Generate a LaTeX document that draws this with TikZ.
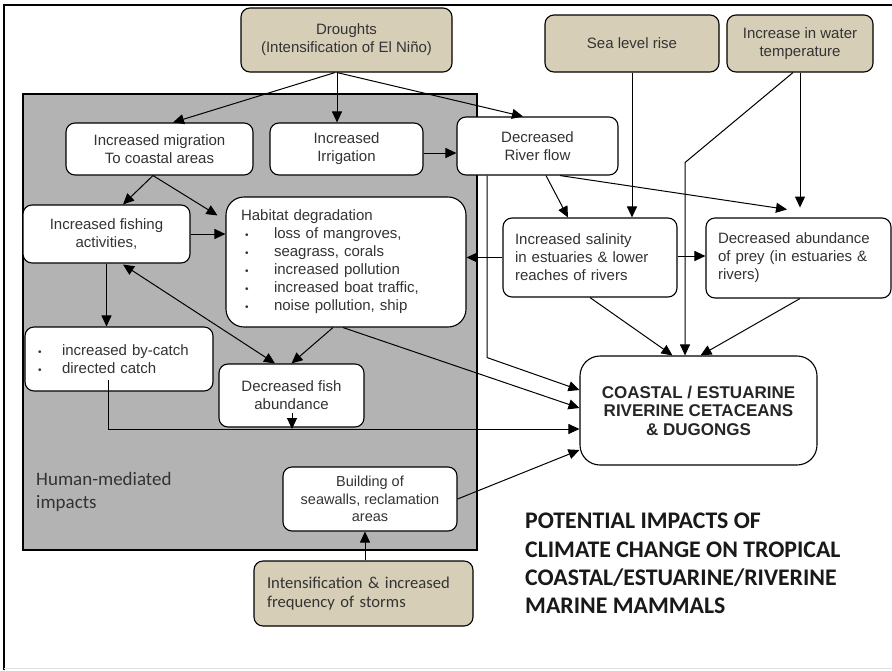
\documentclass[tikz,border=0pt]{standalone}
\usepackage{fontspec}
\setmainfont{Liberation Sans}
\newfontfamily\calfont{Carlito}
\usetikzlibrary{arrows.meta}
\definecolor{grayreg}{HTML}{B3B3B3}
\definecolor{tanfill}{HTML}{D6CEB6}
\definecolor{txt}{HTML}{333333}
\begin{document}
\begin{tikzpicture}[x=1pt,y=-1pt,
  box/.style={draw=black, line width=1.1pt, fill=white, rounded corners=9pt, inner sep=0pt, align=center, text=txt, font=\fontsize{15}{18}\selectfont},
  cause/.style={box, fill=tanfill},
  arr/.style={line width=1pt, -{Triangle[length=11pt,width=10pt]}},
  darr/.style={line width=1pt, {Triangle[length=11pt,width=10pt]}-{Triangle[length=11pt,width=10pt]}}]
\useasboundingbox (0,0) rectangle (892,670);
\fill[white] (0,0) rectangle (892,670);
\draw[line width=1.2pt] (4,670) -- (4,5) -- (892,5);
\draw[black!12] (4,668) -- (892,668);
\draw[line width=1.2pt, fill=grayreg] (23,94) rectangle (477,550);

% cause boxes
\node[cause, minimum width=211, minimum height=64] (drought) at (346.5,40) {Droughts\\(Intensification of El Niño)};
\node[cause, minimum width=174, minimum height=57] (sea) at (632,43.5) {Sea level rise};
\node[cause, minimum width=146, minimum height=57] (temp) at (800,43.5) {Increase in water\\temperature};
\node[cause, minimum width=219, minimum height=65, text width=193, align=left, font=\calfont\fontsize{16.6}{19}\selectfont] (storms) at (363.5,593.5) {Intensification \& increased\\frequency of storms};

% effect boxes
\node[box, minimum width=187, minimum height=52] (migr) at (159.5,149) {Increased migration\\To coastal areas};
\node[box, minimum width=153, minimum height=52] (irrig) at (346.5,149) {Increased\\Irrigation};
\node[box, minimum width=161, minimum height=58] (river) at (537.5,146) {Decreased\\River flow};
\node[box, minimum width=167, minimum height=58] (fishing) at (106.5,234) {Increased fishing\\activities,};
\node[box, rounded corners=18pt, minimum width=240, minimum height=130, text width=210, align=left] (habitat) at (346,262)
  {Habitat degradation\\
   \hspace*{4pt}\makebox[29pt][l]{\fontsize{10}{10}\selectfont\textbullet}loss of mangroves,\\
   \hspace*{4pt}\makebox[29pt][l]{\fontsize{10}{10}\selectfont\textbullet}seagrass, corals\\
   \hspace*{4pt}\makebox[29pt][l]{\fontsize{10}{10}\selectfont\textbullet}increased pollution\\
   \hspace*{4pt}\makebox[29pt][l]{\fontsize{10}{10}\selectfont\textbullet}increased boat traffic,\\
   \hspace*{4pt}\makebox[29pt][l]{\fontsize{10}{10}\selectfont\textbullet}noise pollution, ship};
\node[box, minimum width=174, minimum height=79, text width=150, align=left] (salinity) at (590,257.5) {Increased salinity\\in estuaries \& lower\\reaches of rivers};
\node[box, minimum width=185, minimum height=80, text width=161, align=left] (prey) at (798.5,258) {Decreased abundance\\of prey (in estuaries \&\\rivers)};
\node[box, minimum width=188, minimum height=64, text width=166, align=left] (bycatch) at (119,359)
  {\hspace*{2pt}\makebox[24pt][l]{\fontsize{10}{10}\selectfont\textbullet}increased by-catch\\
   \hspace*{2pt}\makebox[24pt][l]{\fontsize{10}{10}\selectfont\textbullet}directed catch};
\node[box, minimum width=145, minimum height=63] (fish) at (291.5,395.5) {Decreased fish\\abundance};
\node[box, minimum width=174, minimum height=64, font=\fontsize{14.5}{17.5}\selectfont] (seawall) at (370,499) {Building of\\seawalls, reclamation\\areas};
\node[box, rounded corners=20pt, minimum width=237, minimum height=109, font=\bfseries\fontsize{17}{18.5}\selectfont, text=black!85] (coastal) at (698.5,410.5) {COASTAL / ESTUARINE\\RIVERINE CETACEANS\\\& DUGONGS};

% free texts
\node[anchor=west, align=left, inner sep=0pt, text=txt, font=\calfont\fontsize{19}{23}\selectfont] (human) at (36,491.5) {Human-mediated\\impacts};
\node[anchor=north west, align=left, inner sep=0pt, text=black!90, font=\calfont\bfseries\fontsize{23.8}{28.2}\selectfont] (title) at (525,513) {POTENTIAL IMPACTS OF\\CLIMATE CHANGE ON TROPICAL\\COASTAL/ESTUARINE/RIVERINE\\MARINE MAMMALS};

% connectors
\draw[arr] ([xshift=-11.5pt]drought.south) -- ([xshift=13.5pt]migr.north);
\draw[arr] ([xshift=-9.5pt]drought.south) -- ([xshift=-9.5pt]irrig.north);
\draw[arr] ([xshift=-9.5pt]drought.south) -- ([xshift=-14.5pt]river.north);
\draw[arr] ([yshift=-4pt]irrig.east) -- ([yshift=-4pt]irrig.east -| river.west);
\draw[arr] ([xshift=-6.5pt]migr.south) -- ([xshift=16.5pt]fishing.north);
\draw[arr] ([xshift=-6.5pt]migr.south) -- ([xshift=-8pt,yshift=-19pt]habitat.north west);
\draw[arr] (fishing.east) -- (fishing.east -| habitat.west);
\draw[arr] (fishing.south) -- (fishing.south |- bycatch.north);
\draw[darr] ([xshift=16.5pt,yshift=-1pt]fishing.south) -- ([xshift=-16.5pt]fish.north);
\draw[arr] ([xshift=-13pt]habitat.south) -- (fish.north);
\draw[arr] ([xshift=-3pt]habitat.south) -- ([yshift=2.5pt]coastal.west);
\draw[arr] ([xshift=-50.5pt]river.south) -- ++(0,182) -- ([yshift=20.5pt]coastal.west);
\draw[arr] ([xshift=-11pt,yshift=-21pt]bycatch.center) |- ([yshift=-18.5pt]coastal.west);
\draw[arr] ([xshift=0.5pt,yshift=-17pt]fish.center) -- ([xshift=0.5pt,yshift=-33.5pt]fish.center);
\draw[arr] (seawall.east) -- ([yshift=-39.5pt]coastal.west);
\draw[arr] ([xshift=1.5pt]storms.north) -- ([xshift=1.5pt]storms.north |- seawall.south);
\draw[arr] (salinity.west) -- (salinity.west -| habitat.east);
\draw[arr] ([yshift=1.5pt]salinity.east) -- ([yshift=1.5pt]salinity.east -| prey.west);
\draw[arr] ([xshift=8.5pt]river.south) -- ([xshift=-22pt]salinity.north);
\draw[arr] (sea.south) -- (sea.south |- salinity.north);
\draw[arr] ([xshift=22.5pt]river.south) -- ([xshift=-11.5pt,yshift=8pt]prey.north);
\draw[arr] (temp.south) -- ++(0,135);
\draw[arr] ([xshift=-7pt]temp.south) -- ++(-108,90) -- ([xshift=-13.5pt]coastal.north);
\draw[arr] (salinity.south) -- ([xshift=-26pt]coastal.north);
\draw[arr] ([xshift=1.5pt]prey.south) -- ([xshift=2pt]coastal.north);
\end{tikzpicture}
\end{document}
